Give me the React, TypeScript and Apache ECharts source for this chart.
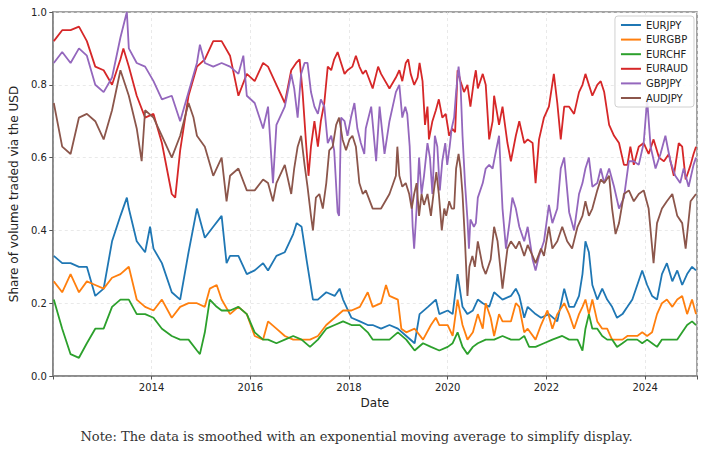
import { useEffect, useRef } from "react";
import * as echarts from "echarts";

// [year, share] pairs (EMA-smoothed daily shares)
const EURJPY = [
  [2012.02, 0.33], [2012.19, 0.31], [2012.36, 0.31], [2012.53, 0.30], [2012.69, 0.30], [2012.86, 0.22], [2013.03, 0.24], [2013.2, 0.37], [2013.37, 0.44], [2013.5, 0.49], [2013.54, 0.46], [2013.7, 0.37], [2013.87, 0.34], [2013.97, 0.41], [2014.04, 0.35], [2014.21, 0.31],
  [2014.41, 0.23], [2014.58, 0.21], [2014.75, 0.34], [2014.92, 0.46], [2015.08, 0.38], [2015.25, 0.41], [2015.42, 0.44], [2015.52, 0.31], [2015.59, 0.33], [2015.76, 0.33], [2015.93, 0.28], [2016.09, 0.29], [2016.26, 0.31],
  [2016.36, 0.29], [2016.53, 0.33], [2016.7, 0.34], [2016.87, 0.39], [2016.94, 0.42], [2017.04, 0.41], [2017.14, 0.32], [2017.27, 0.21], [2017.37, 0.21], [2017.54, 0.23], [2017.71, 0.22], [2017.81, 0.24], [2017.88, 0.21], [2018.05, 0.16], [2018.22, 0.15], [2018.38, 0.14],
  [2018.48, 0.14], [2018.65, 0.13], [2018.82, 0.14], [2018.99, 0.13], [2019.16, 0.11], [2019.33, 0.09], [2019.43, 0.17], [2019.6, 0.19], [2019.76, 0.21], [2019.83, 0.17], [2020.0, 0.18], [2020.1, 0.17], [2020.2, 0.28], [2020.3, 0.19], [2020.4, 0.17], [2020.51, 0.18],
  [2020.61, 0.21], [2020.71, 0.20], [2020.84, 0.19], [2020.94, 0.23], [2021.11, 0.21], [2021.28, 0.22], [2021.38, 0.24], [2021.45, 0.22], [2021.55, 0.16], [2021.62, 0.19], [2021.78, 0.17], [2021.89, 0.16], [2022.05, 0.17], [2022.22, 0.15], [2022.36, 0.24], [2022.46, 0.19], [2022.56, 0.19], [2022.66, 0.22], [2022.73, 0.28],
  [2022.79, 0.37], [2022.86, 0.34], [2022.93, 0.25], [2023.03, 0.21], [2023.13, 0.24], [2023.23, 0.21], [2023.33, 0.19], [2023.43, 0.16], [2023.54, 0.17], [2023.64, 0.19], [2023.74, 0.21], [2023.84, 0.25], [2023.94, 0.29], [2024.04, 0.25], [2024.14, 0.22], [2024.24, 0.21], [2024.34, 0.28], [2024.44, 0.31], [2024.55, 0.26], [2024.65, 0.29], [2024.75, 0.25], [2024.85, 0.28], [2024.95, 0.30], [2025.03, 0.29],
];

const EURGBP = [
  [2012.02, 0.26], [2012.19, 0.23], [2012.36, 0.28], [2012.53, 0.23], [2012.69, 0.26], [2012.86, 0.25], [2013.03, 0.24], [2013.2, 0.27], [2013.37, 0.28], [2013.54, 0.30], [2013.7, 0.21], [2013.87, 0.19], [2014.04, 0.18], [2014.21, 0.21],
  [2014.41, 0.16], [2014.58, 0.19], [2014.75, 0.20], [2014.92, 0.20], [2015.08, 0.19], [2015.18, 0.24], [2015.32, 0.25], [2015.42, 0.21], [2015.59, 0.17], [2015.76, 0.19], [2015.93, 0.17], [2016.09, 0.11], [2016.26, 0.10],
  [2016.36, 0.15], [2016.53, 0.13], [2016.7, 0.11], [2016.87, 0.10], [2017.04, 0.10], [2017.21, 0.10], [2017.37, 0.11], [2017.54, 0.14], [2017.71, 0.16], [2017.88, 0.18], [2018.05, 0.18], [2018.22, 0.19], [2018.38, 0.23],
  [2018.48, 0.19], [2018.65, 0.20], [2018.75, 0.25], [2018.82, 0.22], [2018.99, 0.21], [2019.06, 0.13], [2019.16, 0.12], [2019.33, 0.13], [2019.5, 0.10], [2019.66, 0.14], [2019.76, 0.16], [2019.83, 0.14], [2020.0, 0.14], [2020.1, 0.11], [2020.2, 0.21], [2020.3, 0.14], [2020.4, 0.10], [2020.51, 0.12],
  [2020.61, 0.17], [2020.71, 0.13], [2020.77, 0.20], [2020.87, 0.16], [2020.94, 0.11], [2021.04, 0.17], [2021.11, 0.15], [2021.28, 0.15], [2021.38, 0.20], [2021.45, 0.19], [2021.55, 0.12], [2021.62, 0.13], [2021.78, 0.10], [2021.89, 0.14], [2022.02, 0.18], [2022.12, 0.13], [2022.22, 0.17], [2022.36, 0.20], [2022.46, 0.17], [2022.56, 0.13], [2022.66, 0.17], [2022.73, 0.19],
  [2022.79, 0.21], [2022.86, 0.17], [2022.93, 0.21], [2023.03, 0.15], [2023.13, 0.13], [2023.23, 0.13], [2023.33, 0.10], [2023.43, 0.10], [2023.54, 0.10], [2023.64, 0.11], [2023.74, 0.11], [2023.84, 0.11], [2023.94, 0.12], [2024.04, 0.11], [2024.14, 0.12], [2024.24, 0.17], [2024.34, 0.20], [2024.44, 0.21], [2024.55, 0.19], [2024.65, 0.21], [2024.75, 0.22], [2024.85, 0.17], [2024.95, 0.21], [2025.03, 0.17],
];

const EURCHF = [
  [2012.02, 0.21], [2012.19, 0.13], [2012.36, 0.06], [2012.53, 0.05], [2012.69, 0.09], [2012.86, 0.13], [2013.03, 0.13], [2013.2, 0.19], [2013.37, 0.21], [2013.54, 0.21], [2013.7, 0.17], [2013.87, 0.17], [2014.04, 0.16], [2014.21, 0.13],
  [2014.41, 0.11], [2014.58, 0.10], [2014.75, 0.10], [2014.92, 0.07], [2014.98, 0.06], [2015.08, 0.12], [2015.18, 0.21], [2015.32, 0.19], [2015.42, 0.18], [2015.59, 0.18], [2015.76, 0.19], [2015.93, 0.17], [2016.09, 0.12], [2016.26, 0.10],
  [2016.36, 0.10], [2016.53, 0.09], [2016.7, 0.10], [2016.87, 0.11], [2017.04, 0.10], [2017.21, 0.08], [2017.37, 0.10], [2017.54, 0.13], [2017.71, 0.14], [2017.88, 0.15], [2018.05, 0.14], [2018.22, 0.14], [2018.38, 0.12],
  [2018.48, 0.10], [2018.65, 0.10], [2018.82, 0.10], [2018.99, 0.12], [2019.16, 0.10], [2019.33, 0.07], [2019.5, 0.09], [2019.66, 0.08], [2019.83, 0.07], [2020.0, 0.08], [2020.1, 0.09], [2020.2, 0.12], [2020.3, 0.08], [2020.4, 0.06], [2020.51, 0.08],
  [2020.61, 0.09], [2020.77, 0.10], [2020.94, 0.10], [2021.11, 0.11], [2021.28, 0.10], [2021.45, 0.10], [2021.55, 0.11], [2021.65, 0.08], [2021.78, 0.08], [2021.95, 0.09], [2022.12, 0.10], [2022.32, 0.11], [2022.46, 0.10], [2022.63, 0.10], [2022.73, 0.07],
  [2022.79, 0.13], [2022.86, 0.17], [2022.93, 0.13], [2023.03, 0.13], [2023.13, 0.11], [2023.23, 0.10], [2023.33, 0.10], [2023.43, 0.08], [2023.54, 0.09], [2023.64, 0.10], [2023.74, 0.10], [2023.84, 0.10], [2023.94, 0.09], [2024.04, 0.10], [2024.14, 0.09], [2024.24, 0.08], [2024.34, 0.10], [2024.44, 0.10], [2024.55, 0.10], [2024.65, 0.10], [2024.75, 0.12], [2024.85, 0.14], [2024.95, 0.15], [2025.03, 0.14],
];

const EURAUD = [
  [2012.02, 0.92], [2012.19, 0.95], [2012.36, 0.95], [2012.53, 0.96], [2012.69, 0.92], [2012.86, 0.85], [2013.03, 0.84], [2013.2, 0.80], [2013.37, 0.87], [2013.43, 0.90], [2013.54, 0.85], [2013.7, 0.77], [2013.87, 0.71], [2014.04, 0.72], [2014.21, 0.64],
  [2014.41, 0.50], [2014.48, 0.49], [2014.58, 0.62], [2014.75, 0.77], [2014.92, 0.85], [2015.08, 0.87], [2015.25, 0.92], [2015.42, 0.92], [2015.59, 0.88], [2015.76, 0.77], [2015.93, 0.83], [2016.09, 0.81], [2016.26, 0.86],
  [2016.36, 0.85], [2016.53, 0.80], [2016.7, 0.75], [2016.83, 0.84], [2016.93, 0.86], [2017.0, 0.87], [2017.06, 0.78], [2017.13, 0.64], [2017.18, 0.55], [2017.23, 0.63], [2017.3, 0.70], [2017.37, 0.63], [2017.43, 0.70], [2017.5, 0.75], [2017.57, 0.85], [2017.64, 0.84], [2017.7, 0.87], [2017.77, 0.89], [2017.84, 0.86], [2017.91, 0.83], [2017.97, 0.84], [2018.07, 0.85], [2018.14, 0.88], [2018.21, 0.85], [2018.28, 0.83], [2018.34, 0.84],
  [2018.48, 0.79], [2018.59, 0.85], [2018.65, 0.83], [2018.82, 0.79], [2018.95, 0.82], [2019.02, 0.84], [2019.08, 0.81], [2019.15, 0.86], [2019.2, 0.87], [2019.25, 0.83], [2019.32, 0.80], [2019.39, 0.82], [2019.43, 0.86], [2019.49, 0.81], [2019.54, 0.69], [2019.59, 0.74], [2019.62, 0.65], [2019.69, 0.70], [2019.76, 0.73], [2019.82, 0.76], [2019.89, 0.71], [2019.96, 0.72], [2020.03, 0.66], [2020.09, 0.68], [2020.15, 0.67], [2020.2, 0.84], [2020.26, 0.81], [2020.33, 0.78], [2020.4, 0.80], [2020.46, 0.74], [2020.53, 0.81], [2020.57, 0.84],
  [2020.61, 0.79], [2020.71, 0.83], [2020.77, 0.80], [2020.84, 0.65], [2020.91, 0.70], [2020.94, 0.77], [2021.04, 0.69], [2021.11, 0.74], [2021.21, 0.64], [2021.28, 0.59], [2021.38, 0.66], [2021.45, 0.70], [2021.55, 0.64], [2021.62, 0.65], [2021.72, 0.64], [2021.78, 0.53], [2021.85, 0.65], [2021.95, 0.71], [2022.05, 0.74], [2022.15, 0.83], [2022.22, 0.75], [2022.29, 0.65], [2022.36, 0.74], [2022.46, 0.74], [2022.56, 0.72], [2022.66, 0.78], [2022.73, 0.80],
  [2022.79, 0.83], [2022.93, 0.77], [2023.03, 0.80], [2023.1, 0.81], [2023.17, 0.78], [2023.27, 0.69], [2023.37, 0.66], [2023.47, 0.64], [2023.57, 0.58], [2023.64, 0.58], [2023.7, 0.63], [2023.77, 0.58], [2023.87, 0.63], [2023.97, 0.64], [2024.07, 0.61], [2024.17, 0.65], [2024.28, 0.60], [2024.38, 0.59], [2024.48, 0.61], [2024.58, 0.55], [2024.68, 0.64], [2024.75, 0.63], [2024.82, 0.54], [2024.92, 0.58], [2024.98, 0.61], [2025.03, 0.63],
];

const GBPJPY = [
  [2012.02, 0.86], [2012.19, 0.89], [2012.36, 0.86], [2012.53, 0.90], [2012.69, 0.88], [2012.86, 0.80], [2013.03, 0.78], [2013.2, 0.82], [2013.37, 0.93], [2013.5, 1.0], [2013.54, 0.90], [2013.7, 0.86], [2013.87, 0.85], [2014.04, 0.81], [2014.21, 0.76],
  [2014.41, 0.77], [2014.58, 0.70], [2014.75, 0.78], [2014.92, 0.86], [2014.98, 0.91], [2015.08, 0.86], [2015.25, 0.85], [2015.42, 0.86], [2015.59, 0.85], [2015.76, 0.83], [2015.86, 0.88], [2015.93, 0.77], [2016.09, 0.75], [2016.26, 0.68],
  [2016.36, 0.74], [2016.46, 0.53], [2016.53, 0.69], [2016.7, 0.74], [2016.83, 0.83], [2016.89, 0.79], [2016.96, 0.71], [2017.03, 0.83], [2017.1, 0.86], [2017.16, 0.86], [2017.23, 0.78], [2017.3, 0.74], [2017.37, 0.72], [2017.43, 0.76], [2017.5, 0.74], [2017.57, 0.64], [2017.64, 0.66], [2017.7, 0.62], [2017.77, 0.45], [2017.8, 0.44], [2017.84, 0.71], [2017.91, 0.70], [2017.97, 0.66], [2018.04, 0.71], [2018.11, 0.75], [2018.17, 0.68], [2018.24, 0.64], [2018.31, 0.61], [2018.34, 0.68],
  [2018.45, 0.74], [2018.55, 0.59], [2018.62, 0.74], [2018.72, 0.61], [2018.82, 0.70], [2018.95, 0.78], [2019.02, 0.80], [2019.08, 0.71], [2019.14, 0.74], [2019.18, 0.72], [2019.23, 0.63], [2019.29, 0.41], [2019.32, 0.35], [2019.37, 0.46], [2019.42, 0.60], [2019.47, 0.50], [2019.52, 0.55], [2019.59, 0.64], [2019.64, 0.60], [2019.69, 0.50], [2019.74, 0.66], [2019.79, 0.63], [2019.84, 0.51], [2019.89, 0.59], [2019.95, 0.64], [2019.99, 0.58], [2020.04, 0.63], [2020.08, 0.68], [2020.13, 0.71], [2020.17, 0.78], [2020.22, 0.85], [2020.26, 0.80], [2020.3, 0.66], [2020.35, 0.53], [2020.4, 0.43], [2020.43, 0.35], [2020.46, 0.43], [2020.53, 0.41], [2020.57, 0.42],
  [2020.61, 0.49], [2020.71, 0.53], [2020.77, 0.57], [2020.84, 0.58], [2020.91, 0.57], [2020.98, 0.62], [2021.04, 0.66], [2021.11, 0.46], [2021.18, 0.35], [2021.25, 0.42], [2021.31, 0.49], [2021.38, 0.46], [2021.45, 0.41], [2021.55, 0.37], [2021.62, 0.41], [2021.72, 0.32], [2021.78, 0.29], [2021.85, 0.33], [2021.95, 0.37], [2022.05, 0.47], [2022.12, 0.42], [2022.22, 0.46], [2022.29, 0.57], [2022.36, 0.60], [2022.46, 0.45], [2022.56, 0.40], [2022.66, 0.50], [2022.73, 0.53],
  [2022.79, 0.57], [2022.86, 0.60], [2022.93, 0.52], [2023.03, 0.53], [2023.1, 0.57], [2023.17, 0.53], [2023.27, 0.57], [2023.37, 0.52], [2023.47, 0.46], [2023.57, 0.49], [2023.67, 0.59], [2023.77, 0.59], [2023.87, 0.58], [2023.97, 0.64], [2024.04, 0.76], [2024.11, 0.63], [2024.21, 0.57], [2024.31, 0.61], [2024.41, 0.66], [2024.51, 0.59], [2024.61, 0.55], [2024.71, 0.53], [2024.78, 0.57], [2024.88, 0.52], [2024.98, 0.58], [2025.03, 0.60],
];

const AUDJPY = [
  [2012.02, 0.75], [2012.19, 0.63], [2012.36, 0.61], [2012.53, 0.71], [2012.69, 0.72], [2012.86, 0.70], [2013.03, 0.65], [2013.2, 0.73], [2013.37, 0.84], [2013.54, 0.77], [2013.7, 0.68], [2013.8, 0.59], [2013.87, 0.73], [2014.04, 0.71], [2014.21, 0.66],
  [2014.41, 0.60], [2014.58, 0.66], [2014.75, 0.75], [2014.85, 0.71], [2014.92, 0.66], [2015.08, 0.63], [2015.25, 0.55], [2015.42, 0.60], [2015.52, 0.48], [2015.59, 0.55], [2015.76, 0.57], [2015.93, 0.51], [2016.09, 0.51], [2016.26, 0.54],
  [2016.36, 0.53], [2016.46, 0.48], [2016.53, 0.53], [2016.7, 0.58], [2016.83, 0.50], [2016.89, 0.57], [2016.96, 0.63], [2017.03, 0.66], [2017.1, 0.58], [2017.16, 0.52], [2017.23, 0.44], [2017.27, 0.40], [2017.33, 0.49], [2017.4, 0.50], [2017.47, 0.46], [2017.54, 0.53], [2017.6, 0.62], [2017.67, 0.63], [2017.74, 0.69], [2017.8, 0.71], [2017.87, 0.65], [2017.94, 0.62], [2018.01, 0.65], [2018.07, 0.66], [2018.14, 0.63], [2018.21, 0.53], [2018.28, 0.50], [2018.34, 0.51],
  [2018.48, 0.46], [2018.65, 0.46], [2018.82, 0.50], [2018.95, 0.55], [2018.98, 0.63], [2019.02, 0.55], [2019.08, 0.52], [2019.15, 0.53], [2019.22, 0.50], [2019.27, 0.46], [2019.32, 0.50], [2019.37, 0.53], [2019.42, 0.44], [2019.47, 0.50], [2019.52, 0.47], [2019.59, 0.50], [2019.66, 0.44], [2019.72, 0.51], [2019.77, 0.56], [2019.82, 0.50], [2019.88, 0.40], [2019.93, 0.46], [2019.97, 0.44], [2020.03, 0.48], [2020.08, 0.46], [2020.13, 0.46], [2020.17, 0.57], [2020.22, 0.61], [2020.26, 0.57], [2020.3, 0.50], [2020.35, 0.37], [2020.4, 0.22], [2020.44, 0.30], [2020.5, 0.33], [2020.55, 0.30],
  [2020.61, 0.37], [2020.71, 0.30], [2020.77, 0.28], [2020.87, 0.32], [2020.94, 0.41], [2021.01, 0.37], [2021.11, 0.24], [2021.21, 0.35], [2021.28, 0.37], [2021.38, 0.35], [2021.45, 0.37], [2021.55, 0.33], [2021.62, 0.36], [2021.72, 0.33], [2021.78, 0.31], [2021.89, 0.35], [2021.95, 0.33], [2022.05, 0.41], [2022.12, 0.35], [2022.22, 0.37], [2022.32, 0.41], [2022.42, 0.37], [2022.52, 0.35], [2022.63, 0.41], [2022.73, 0.44],
  [2022.79, 0.48], [2022.86, 0.44], [2022.93, 0.46], [2023.03, 0.51], [2023.1, 0.54], [2023.17, 0.53], [2023.27, 0.55], [2023.33, 0.46], [2023.4, 0.39], [2023.47, 0.42], [2023.57, 0.50], [2023.67, 0.51], [2023.77, 0.48], [2023.87, 0.50], [2023.97, 0.51], [2024.07, 0.46], [2024.17, 0.31], [2024.24, 0.42], [2024.34, 0.46], [2024.44, 0.48], [2024.55, 0.50], [2024.65, 0.44], [2024.75, 0.42], [2024.82, 0.35], [2024.92, 0.48], [2025.03, 0.50],
];

const NAMES = ["EURJPY", "EURGBP", "EURCHF", "EURAUD", "GBPJPY", "AUDJPY"];
const SERIES = [EURJPY, EURGBP, EURCHF, EURAUD, GBPJPY, AUDJPY];
const COLORS = ["#1f77b4", "#ff7f0e", "#2ca02c", "#d62728", "#9467bd", "#8c564b"];
const YEAR_LABELS = [2014, 2016, 2018, 2020, 2022, 2024];
const NOTE = "Note: The data is smoothed with an exponential moving average to simplify display.";

const SANS = "DejaVu Sans";
const FRAME = "#858585";

export default function App() {
  const ref = useRef<HTMLDivElement>(null);
  useEffect(() => {
    if (!ref.current) return;
    document.body.style.margin = "0";
    const chart = echarts.init(ref.current, null, { renderer: "svg" });
    const option: echarts.EChartsOption = {
      animation: false,
      backgroundColor: "#fff",
      color: COLORS,
      grid: { left: 52, right: 16, top: 12, bottom: 77, show: true, borderColor: FRAME, borderWidth: 1.5, backgroundColor: "transparent" },
      xAxis: {
        type: "value",
        min: 2012,
        max: 2025.05,
        interval: 2,
        name: "Date",
        nameLocation: "middle",
        nameGap: 19,
        nameTextStyle: { fontFamily: SANS, fontSize: 12, color: "#222", verticalAlign: "top" },
        axisLine: { show: true, onZero: false, lineStyle: { color: FRAME, width: 1.5 } },
        axisTick: { show: true, length: 3.5, lineStyle: { color: "#555" } },
        axisLabel: {
          fontFamily: SANS, fontSize: 10, color: "#222", margin: 6,
          formatter: (v: number) => (YEAR_LABELS.includes(v) ? String(v) : ""),
        },
        splitLine: { show: true, lineStyle: { color: "#e3e3e3", type: [3, 3], width: 0.8 } },
      },
      yAxis: {
        type: "value",
        min: 0,
        max: 1,
        interval: 0.2,
        name: "Share of volume traded via the USD",
        nameLocation: "middle",
        nameGap: 26,
        nameTextStyle: { fontFamily: SANS, fontSize: 12, color: "#222" },
        axisLine: { show: true, lineStyle: { color: FRAME, width: 1.5 } },
        axisTick: { show: true, length: 3.5, lineStyle: { color: "#555" } },
        axisLabel: { fontFamily: SANS, fontSize: 10, color: "#222", margin: 6, formatter: (v: number) => v.toFixed(1) },
        splitLine: { show: true, lineStyle: { color: "#e3e3e3", type: [3, 3], width: 0.8 } },
      },
      legend: {
        orient: "vertical",
        right: 19,
        top: 16,
        icon: "rect",
        itemWidth: 20,
        itemHeight: 2,
        itemGap: 2.6,
        padding: [3, 6, 3, 6],
        backgroundColor: "rgba(255,255,255,0.85)",
        borderColor: "#d0d0d0",
        borderWidth: 1,
        borderRadius: 3,
        textStyle: { fontFamily: SANS, fontSize: 10, color: "#222", lineHeight: 12 },
        data: NAMES,
      },
      graphic: [
        {
          type: "text",
          left: "center",
          top: 430,
          style: { text: NOTE, fontFamily: "DejaVu Serif", fontSize: 13, fill: "#333" },
        },
      ],
      series: NAMES.map((name, i) => ({
        name,
        type: "line",
        data: SERIES[i],
        showSymbol: false,
        symbol: "none",
        lineStyle: { width: 1.8, color: COLORS[i] },
        itemStyle: { color: COLORS[i] },
      })),
    };
    chart.setOption(option);
    return () => chart.dispose();
  }, []);
  return <div ref={ref} style={{ width: 713, height: 453 }} />;
}
